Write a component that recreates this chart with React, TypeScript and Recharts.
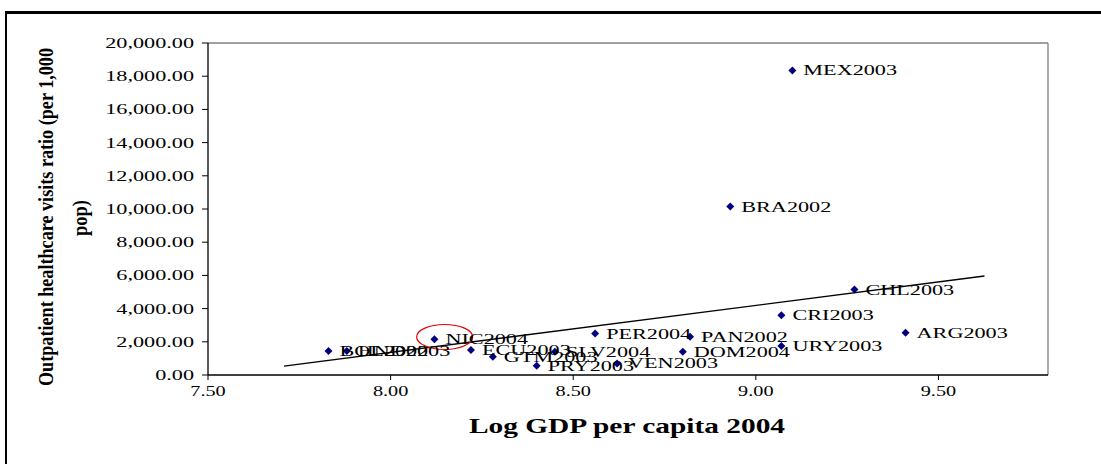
import React from 'react';
import {
  ScatterChart, Scatter, XAxis, YAxis, ReferenceLine, ReferenceDot, LabelList,
} from 'recharts';

const countryLabels = ['BOL2002', 'HND2003', 'NIC2004', 'ECU2003', 'GTM2003', 'PRY2003', 'SLV2004', 'PER2004', 'VEN2003', 'DOM2004', 'PAN2002', 'CRI2003', 'URY2003', 'BRA2002', 'MEX2003', 'CHL2003', 'ARG2003'];
const logGdp = [7.83, 7.88, 8.12, 8.22, 8.28, 8.40, 8.45, 8.56, 8.62, 8.80, 8.82, 9.07, 9.07, 8.93, 9.10, 9.27, 9.41];
const visitsRatio = [1450, 1450, 2150, 1500, 1100, 550, 1400, 2500, 700, 1400, 2300, 3600, 1750, 10150, 18350, 5150, 2550];

const trendX = [7.708, 9.626];
const trendY = [540, 5965];

const xTicks = [7.5, 8.0, 8.5, 9.0, 9.5];
const yTicks = [0, 2000, 4000, 6000, 8000, 10000, 12000, 14000, 16000, 18000, 20000];

const highlightX = 8.148;
const highlightY = 2290;

const points = countryLabels.map((name, i) => ({ name, x: logGdp[i], y: visitsRatio[i] }));
const trend = trendX.map((x, i) => ({ x, y: trendY[i] }));

const SERIF = '"Liberation Serif", "Times New Roman", serif';
const STRETCH = 1.48;

const fmtY = (v: number) =>
  v.toLocaleString('en-US', { minimumFractionDigits: 2, maximumFractionDigits: 2 });

const YTick = (props: any) => {
  const { x, y, payload } = props;
  return (
    <g transform={`translate(${x},${y})`}>
      <text transform={`scale(${STRETCH},1)`} textAnchor="end" dy={5} fontFamily={SERIF} fontSize={15} fill="#000">
        {fmtY(payload.value)}
      </text>
    </g>
  );
};

const XTick = (props: any) => {
  const { x, y, payload } = props;
  return (
    <g transform={`translate(${x},${y})`}>
      <text transform={`scale(1.35,1)`} textAnchor="middle" dy={14} fontFamily={SERIF} fontSize={15} fill="#000">
        {payload.value.toFixed(2)}
      </text>
    </g>
  );
};

const Diamond = (props: any) => {
  const { cx, cy } = props;
  if (cx == null || cy == null) return null;
  const r = 4;
  return <path d={`M${cx},${cy - r} L${cx + r},${cy} L${cx},${cy + r} L${cx - r},${cy} Z`} fill="#000080" stroke="none" />;
};

const PointLabel = (props: any) => {
  const { x, y, width, height, value } = props;
  const cx = x + (width || 0) / 2;
  const cy = y + (height || 0) / 2;
  return (
    <g transform={`translate(${cx + 11},${cy})`}>
      <text transform={`scale(${STRETCH},1)`} dy={5} fontFamily={SERIF} fontSize={15} fill="#000">
        {value}
      </text>
    </g>
  );
};

const Ellipse = (props: any) => {
  const { cx, cy } = props;
  return <ellipse cx={cx} cy={cy} rx={28} ry={12.5} fill="none" stroke="#e00000" strokeWidth={1.2} />;
};

export default function App() {
  return (
    <div style={{ position: 'absolute', left: 0, top: 0, width: 1101, height: 464, background: '#fff', overflow: 'hidden' }}>
      <div style={{ position: 'absolute', left: 5, top: 11, width: 1101, height: 464, borderTop: '3px solid #000', borderLeft: '2px solid #000' }} />
      <ScatterChart width={1101} height={464} margin={{ top: 43, right: 53, bottom: 0, left: 0 }} style={{ position: 'absolute', left: 0, top: 0 }}>
        <XAxis
          type="number"
          dataKey="x"
          domain={[7.5, 9.8]}
          ticks={xTicks}
          allowDataOverflow
          height={89}
          tick={<XTick />}
          tickSize={5}
          axisLine={{ stroke: '#000', strokeWidth: 1.3 }}
          tickLine={{ stroke: '#000' }}
          label={(p: any) => (
            <g transform="translate(627,433)">
              <text transform="scale(1.4,1)" textAnchor="middle" fontFamily={SERIF} fontWeight="bold" fontSize={21} fill="#000">
                Log GDP per capita 2004
              </text>
            </g>
          )}
        />
        <YAxis
          type="number"
          dataKey="y"
          domain={[0, 20000]}
          ticks={yTicks}
          allowDataOverflow
          width={208}
          tick={<YTick />}
          tickSize={6}
          tickMargin={8}
          axisLine={{ stroke: '#000', strokeWidth: 1.3 }}
          tickLine={{ stroke: '#000' }}
          label={(p: any) => (
            <g>
              <text
                transform="translate(53,217) rotate(-90)"
                textAnchor="middle"
                fontFamily={SERIF}
                fontWeight="bold"
                fontSize={22}
                textLength={338}
                lengthAdjust="spacingAndGlyphs"
                fill="#000"
              >
                Outpatient healthcare visits ratio (per 1,000
              </text>
              <text
                transform="translate(87,218) rotate(-90)"
                textAnchor="middle"
                fontFamily={SERIF}
                fontWeight="bold"
                fontSize={22}
                textLength={36}
                lengthAdjust="spacingAndGlyphs"
                fill="#000"
              >
                pop)
              </text>
            </g>
          )}
        />
        <ReferenceLine y={20000} stroke="#808080" strokeWidth={1.3} />
        <ReferenceLine x={9.8} stroke="#808080" strokeWidth={1.3} />
        <Scatter data={points} shape={<Diamond />} isAnimationActive={false}>
          <LabelList dataKey="name" content={<PointLabel />} />
        </Scatter>
        <Scatter data={trend} line={{ stroke: '#000', strokeWidth: 1.3 }} shape={() => null} isAnimationActive={false} />
        <ReferenceDot x={highlightX} y={highlightY} shape={<Ellipse />} />
      </ScatterChart>
    </div>
  );
}
